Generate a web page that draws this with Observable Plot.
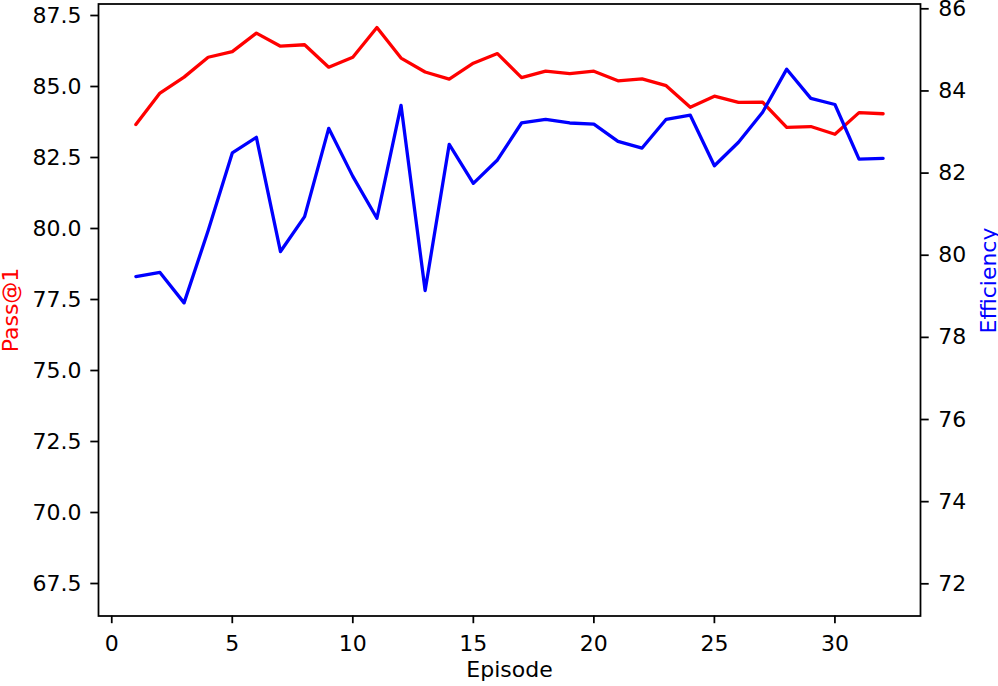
<!DOCTYPE html>
<html><head><meta charset="utf-8">
<script src="https://cdn.jsdelivr.net/npm/d3@7"></script>
<script src="https://cdn.jsdelivr.net/npm/@observablehq/plot@0.6"></script>
<style>
html,body{margin:0;padding:0;background:#fff;}
#chart{position:relative;width:998px;height:686px;}
#chart svg{position:absolute;left:0;top:0;}
</style></head><body><div id="chart"></div>
<script>
const episodes = [1,2,3,4,5,6,7,8,9,10,11,12,13,14,15,16,17,18,19,20,21,22,23,24,25,26,27,28,29,30,31,32];
const passAt1 = [83.66,84.77,85.33,86.03,86.23,86.88,86.42,86.47,85.68,86.03,87.08,86.00,85.51,85.26,85.82,86.16,85.31,85.54,85.45,85.54,85.20,85.27,85.03,84.27,84.66,84.44,84.45,83.56,83.59,83.32,84.08,84.04];
const efficiency = [79.48,79.58,78.84,80.60,82.49,82.87,80.09,80.94,83.09,81.92,80.90,83.65,79.14,82.70,81.75,82.32,83.22,83.31,83.22,83.19,82.77,82.61,83.31,83.41,82.18,82.75,83.48,84.53,83.82,83.67,82.34,82.36];
const xTicks = [0,5,10,15,20,25,30];
const passTicks = [67.5,70,72.5,75,77.5,80,82.5,85,87.5];
const effTicks = [72,74,76,78,80,82,84,86];

const rows = episodes.map((e,i)=>({episode:e, pass:passAt1[i], eff:efficiency[i]}));

const W=998,H=686,mL=98,mR=78,mT=3.5,mB=70.5;
const FS=22, LW=3.3, SW=1.76, TS=7.7;
const baseStyle = {fontFamily:"'DejaVu Sans', sans-serif", fontSize:FS+"px", color:"black", background:"transparent", overflow:"visible"};
const xDomain=[-0.55,33.55];

const p1 = Plot.plot({
  width:W, height:H, marginLeft:mL, marginRight:mR, marginTop:mT, marginBottom:mB,
  style:baseStyle,
  x:{domain:xDomain},
  y:{domain:[66.356,87.905]},
  marks:[
    Plot.axisX(xTicks,{tickSize:TS, tickPadding:12, strokeWidth:SW, label:null, fontSize:FS}),
    Plot.axisY(passTicks,{tickSize:TS, tickPadding:9.3, strokeWidth:SW, label:null, fontSize:FS, tickFormat:d3.format(".1f")}),
    Plot.line(rows,{x:"episode", y:"pass", stroke:"red", strokeWidth:LW}),
    Plot.frame({stroke:"black", strokeWidth:SW}),
    Plot.text(["Pass@1"],{frameAnchor:"left", textAnchor:"middle", dx:-88, rotate:-90, fill:"red", fontSize:FS}),
    Plot.text(["Episode"],{frameAnchor:"bottom", textAnchor:"middle", dy:61, fill:"black", fontSize:FS})
  ]
});
const p2 = Plot.plot({
  width:W, height:H, marginLeft:mL, marginRight:mR, marginTop:mT, marginBottom:mB,
  style:baseStyle,
  x:{domain:xDomain, axis:null},
  y:{domain:[71.216,86.117]},
  marks:[
    Plot.axisY(effTicks,{anchor:"right", tickSize:TS, tickPadding:10, strokeWidth:SW, label:null, fontSize:FS, tickFormat:d3.format("d")}),
    Plot.line(rows,{x:"episode", y:"eff", stroke:"blue", strokeWidth:LW}),
    Plot.text(["Efficiency"],{frameAnchor:"right", textAnchor:"middle", dx:68, dy:-29.5, rotate:-90, fill:"blue", fontSize:FS})
  ]
});
const c=document.getElementById("chart");
c.appendChild(p1); c.appendChild(p2);
</script></body></html>
